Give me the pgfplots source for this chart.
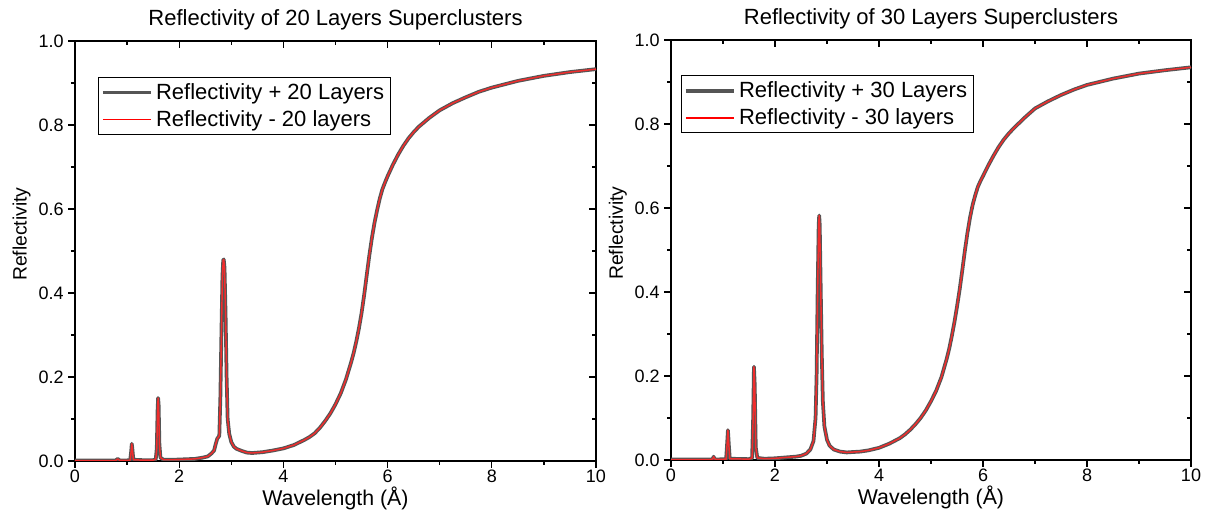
\documentclass[border=0pt]{standalone}
\usepackage{fontspec}
\setmainfont{Liberation Sans}
\usepackage{pgfplots}
\usepackage{pgfplotstable}
\pgfplotsset{compat=1.18}

\definecolor{curvegray}{RGB}{85,85,85}
\definecolor{curvered}{RGB}{240,45,45}
\definecolor{legendred}{RGB}{255,0,0}

% reflectivity, 20 layers
\pgfplotstableread{
x R
0.00 0.001
0.50 0.001
0.78 0.0012
0.82 0.005
0.86 0.0012
1.00 0.0015
1.06 0.002
1.08 0.025
1.09 0.041
1.10 0.030
1.12 0.003
1.30 0.002
1.50 0.002
1.55 0.004
1.57 0.030
1.585 0.120
1.595 0.150
1.605 0.135
1.62 0.040
1.64 0.008
1.70 0.003
1.90 0.003
2.10 0.004
2.30 0.005
2.45 0.008
2.55 0.011
2.62 0.018
2.67 0.025
2.70 0.040
2.73 0.053
2.77 0.060
2.79 0.150
2.81 0.300
2.83 0.440
2.845 0.478
2.855 0.480
2.87 0.460
2.89 0.350
2.91 0.200
2.93 0.100
2.96 0.065
3.00 0.045
3.05 0.034
3.10 0.029
3.20 0.024
3.30 0.020
3.40 0.019
3.50 0.020
3.60 0.021
3.80 0.025
4.00 0.030
4.20 0.038
4.40 0.050
4.50 0.057
4.60 0.066
4.70 0.079
4.80 0.095
4.90 0.113
5.00 0.135
5.10 0.161
5.20 0.194
5.30 0.235
5.35 0.258
5.40 0.285
5.45 0.316
5.50 0.352
5.55 0.395
5.60 0.443
5.65 0.490
5.70 0.532
5.75 0.568
5.80 0.598
5.85 0.625
5.90 0.647
5.95 0.663
6.00 0.678
6.10 0.705
6.20 0.729
6.30 0.750
6.40 0.768
6.50 0.783
6.60 0.796
6.80 0.817
7.00 0.835
7.25 0.852
7.50 0.866
7.75 0.879
8.00 0.889
8.50 0.905
9.00 0.917
9.50 0.926
10.0 0.933
}\twentylayers

% reflectivity, 30 layers (right panel)
\pgfplotstableread{
x R
0.00 0.001
0.50 0.001
0.78 0.0012
0.81 0.004
0.82 0.008
0.83 0.004
0.86 0.0012
1.06 0.002
1.08 0.040
1.095 0.071
1.11 0.040
1.13 0.003
1.50 0.002
1.56 0.005
1.58 0.100
1.595 0.222
1.61 0.180
1.63 0.030
1.66 0.005
1.80 0.003
2.00 0.004
2.20 0.006
2.40 0.008
2.50 0.010
2.60 0.015
2.68 0.025
2.74 0.045
2.78 0.100
2.80 0.200
2.82 0.400
2.84 0.560
2.85 0.582
2.86 0.560
2.88 0.400
2.90 0.250
2.92 0.140
2.95 0.080
3.00 0.048
3.05 0.034
3.13 0.025
3.25 0.020
3.38 0.018
3.50 0.019
3.64 0.020
3.80 0.023
4.00 0.029
4.20 0.039
4.40 0.052
4.50 0.061
4.60 0.072
4.70 0.085
4.80 0.100
4.90 0.118
5.00 0.140
5.10 0.165
5.20 0.197
5.30 0.240
5.35 0.265
5.40 0.295
5.45 0.328
5.50 0.365
5.55 0.405
5.60 0.450
5.65 0.497
5.70 0.540
5.75 0.577
5.80 0.607
5.85 0.630
5.90 0.650
5.95 0.664
6.00 0.676
6.10 0.701
6.20 0.724
6.30 0.745
6.40 0.763
6.50 0.778
6.60 0.791
6.80 0.815
7.00 0.837
7.25 0.854
7.50 0.869
7.75 0.882
8.00 0.893
8.50 0.908
9.00 0.920
9.50 0.928
10.0 0.935
}\thirtylayers

\pgfplotsset{
  panel/.style={
    scale only axis, width=390.75pt, height=315pt,
    anchor=origin,
    xmin=0, xmax=10, ymin=0, ymax=1,
    xtick={0,2,...,10}, ytick={0,0.2,...,1},
    minor x tick num=1, minor y tick num=1,
    axis line style={line width=1.1pt},
    every tick/.style={line width=0.9pt, black},
    major tick length=5pt, minor tick length=3pt,
    /pgf/number format/assume math mode=true,
    tick label style={font=\fontsize{13.5}{16}\selectfont},
    yticklabel style={/pgf/number format/fixed, /pgf/number format/fixed zerofill, /pgf/number format/precision=1},
    xticklabel style={yshift=2pt},
    every axis title shift=0pt,
    title style={at={(axis description cs:0.5,1)}, anchor=center, yshift=15.75pt, font=\fontsize{16.5}{18}\selectfont},
    xlabel style={at={(axis description cs:0.5,0)}, anchor=center, yshift=-28pt, font=\fontsize{16}{18}\selectfont},
    ylabel style={at={(axis description cs:-0.1024,0.54)}, anchor=center, font=\fontsize{14.5}{16}\selectfont},
    xlabel={Wavelength (Å)}, ylabel={Reflectivity},
    tick align=outside, xtick pos=bottom, ytick pos=left,
    legend cell align=left,
    legend style={draw=black, line width=0.6pt, fill=white, anchor=north west,
      font=\fontsize{16.5}{17}\selectfont, inner sep=2pt, row sep=2pt,
      nodes={inner sep=2.5pt}},
  },
  frameticks/.style={
    scale only axis, width=390.75pt, height=315pt,
    anchor=origin,
    xmin=0, xmax=10, ymin=0, ymax=1,
    xtick={0,2,...,10}, ytick={0,0.2,...,1},
    minor x tick num=1, minor y tick num=1,
    axis line style={line width=1.1pt},
    every tick/.style={line width=0.9pt, black},
    major tick length=5pt, minor tick length=3pt,
    tick align=inside, xtick pos=top, ytick pos=right,
    xticklabels={}, yticklabels={},
  },
  grayline/.style={draw=curvegray, line width=2.8pt, line join=round,
    legend image code/.code={\draw[draw=curvegray, line width=2.8pt] (0pt,0pt) -- (36pt,0pt);}},
  redline/.style={draw=curvered, line width=1.1pt, line join=round,
    legend image code/.code={\draw[draw=legendred, line width=1pt] (0pt,0pt) -- (36pt,0pt);}},
}

\begin{document}
\begin{tikzpicture}
\useasboundingbox (-56.25pt,-42pt) rectangle (852pt,345.75pt);

\begin{axis}[frameticks, at={(0pt,0pt)}]
\end{axis}
\begin{axis}[panel, at={(0pt,0pt)},
  title={Reflectivity of 20 Layers Superclusters},
  legend style={at={(rel axis cs:0.044,0.914)}}]
  \addplot[grayline] table[x=x, y=R] {\twentylayers};
  \addlegendentry{Reflectivity + 20 Layers}
  \addplot[redline] table[x=x, y=R] {\twentylayers};
  \addlegendentry{Reflectivity - 20 layers}
\end{axis}

\begin{axis}[frameticks, at={(447pt,0.75pt)}, width=390pt]
\end{axis}
\begin{axis}[panel, at={(447pt,0.75pt)}, width=390pt,
  title={Reflectivity of 30 Layers Superclusters},
  legend style={at={(rel axis cs:0.019,0.916)}}]
  \addplot[grayline] table[x=x, y=R] {\thirtylayers};
  \addlegendentry{Reflectivity + 30 Layers}
  \addplot[redline] table[x=x, y=R] {\thirtylayers};
  \addlegendentry{Reflectivity - 30 layers}
\end{axis}
\end{tikzpicture}
\end{document}
